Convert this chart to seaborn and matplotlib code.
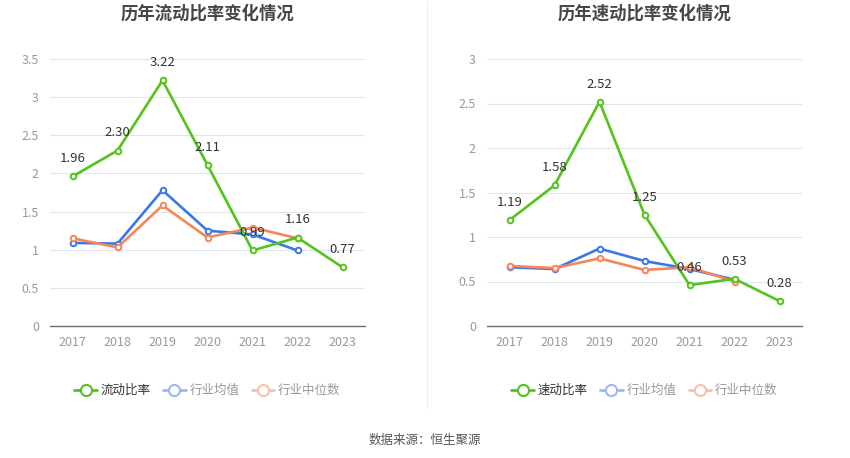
import matplotlib
matplotlib.use("Agg")
import numpy as np
import pandas as pd
import matplotlib.pyplot as plt
from matplotlib.lines import Line2D
import seaborn as sns

years = ["2017", "2018", "2019", "2020", "2021", "2022", "2023"]

current_ratio = [1.96, 2.30, 3.22, 2.11, 0.99, 1.16, 0.77]
current_avg = [1.09, 1.08, 1.78, 1.25, 1.20, 0.99, np.nan]
current_median = [1.15, 1.03, 1.58, 1.16, 1.29, 1.15, np.nan]

quick_ratio = [1.19, 1.58, 2.52, 1.25, 0.46, 0.53, 0.28]
quick_avg = [0.66, 0.64, 0.87, 0.73, 0.64, 0.52, np.nan]
quick_median = [0.675, 0.65, 0.76, 0.63, 0.66, 0.50, np.nan]

GREEN = "#52c41a"
BLUE = "#3a78e6"
ORANGE = "#f5855b"

sns.set_theme(style="white")
plt.rcParams["font.family"] = ["Noto Sans CJK SC", "DejaVu Sans"]


def draw_panel(ax, title, main_name, main_vals, avg_vals, med_vals, ymax, yticks):
    df = pd.DataFrame({"year": years, "main": main_vals, "avg": avg_vals, "med": med_vals})
    for col, color, z in [("main", GREEN, 3), ("avg", BLUE, 2), ("med", ORANGE, 2)]:
        d = df.dropna(subset=[col])
        sns.lineplot(data=d, x="year", y=col, ax=ax, color=color, linewidth=1.9,
                     marker="o", markersize=4, markerfacecolor="white",
                     markeredgecolor=color, markeredgewidth=1.4, sort=False, zorder=z)
    for i, v in enumerate(main_vals):
        ax.annotate(f"{v:.2f}", xy=(i, v), xytext=(0, 8), textcoords="offset points",
                    ha="center", va="bottom", fontsize=9.5, color="#333333", zorder=5)
    ax.set_xlim(-0.5, len(years) - 0.5)
    ax.set_ylim(0, ymax)
    ax.set_yticks(yticks)
    ax.set_yticklabels([f"{t:g}" for t in yticks])
    ax.grid(axis="y", color="#e0e6f1", linewidth=0.8)
    ax.set_axisbelow(True)
    for s in ["top", "right", "left"]:
        ax.spines[s].set_visible(False)
    ax.spines["bottom"].set_color("#6e7079")
    ax.spines["bottom"].set_linewidth(1)
    ax.tick_params(axis="x", length=4, color="#6e7079", labelsize=9, labelcolor="#999999", pad=3)
    ax.tick_params(axis="y", length=0, labelsize=9, labelcolor="#999999", pad=8)
    ax.set_xlabel("")
    ax.set_ylabel("")
    ax.set_title(title, fontsize=12.5, fontweight="bold", color="#464646", pad=29)

    handles = [
        Line2D([], [], color=GREEN, lw=2, marker="o", markersize=8, markerfacecolor="white", markeredgewidth=1.5),
        Line2D([], [], color="#9bb9f0", lw=2, marker="o", markersize=8, markerfacecolor="white", markeredgewidth=1.5),
        Line2D([], [], color="#f9c0ab", lw=2, marker="o", markersize=8, markerfacecolor="white", markeredgewidth=1.5),
    ]
    leg = ax.legend(handles, [main_name, "行业均值", "行业中位数"], loc="upper center",
                    bbox_to_anchor=(0.5, -0.175), ncol=3, frameon=False, fontsize=9,
                    handlelength=1.8, handletextpad=0.3, columnspacing=1.0)
    for t, c in zip(leg.get_texts(), ["#333333", "#999999", "#999999"]):
        t.set_color(c)


fig = plt.figure(figsize=(8.5, 4.58), dpi=100)
ax1 = fig.add_axes([50 / 850, 1 - 326 / 458, 315 / 850, 267 / 458])
ax2 = fig.add_axes([487 / 850, 1 - 326 / 458, 315 / 850, 267 / 458])

draw_panel(ax1, "历年流动比率变化情况", "流动比率", current_ratio, current_avg, current_median,
           3.5, [0, 0.5, 1, 1.5, 2, 2.5, 3, 3.5])
draw_panel(ax2, "历年速动比率变化情况", "速动比率", quick_ratio, quick_avg, quick_median,
           3.0, [0, 0.5, 1, 1.5, 2, 2.5, 3])

fig.add_artist(Line2D([427 / 850, 427 / 850], [1 - 408 / 458, 1.0], color="#eeeeee", lw=0.8))
fig.text(0.5, 1 - 440 / 458, "数据来源：恒生聚源", ha="center", va="center", fontsize=9, color="#555555")

fig.savefig("out.png", dpi=100)
